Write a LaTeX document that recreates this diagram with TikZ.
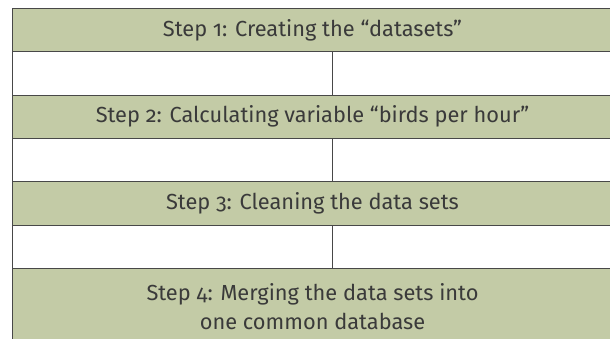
\documentclass[tikz,border=0pt]{standalone}
\usepackage{fontspec}
\setmainfont{Fira Sans}[Numbers=OldStyle]
\definecolor{stepgreen}{RGB}{195,203,166}
\definecolor{rulegray}{RGB}{72,72,72}
\definecolor{textgray}{RGB}{58,58,58}
\tikzset{
    cell/.style={draw=rulegray, line width=0.9pt, inner sep=0pt, outer sep=0pt,
        minimum height=43.3pt, anchor=north west},
    stepcell/.style={cell, fill=stepgreen, minimum width=600pt, text=textgray,
        font=\fontsize{21.8}{29}\selectfont, align=center},
    leftcell/.style={cell, fill=white, minimum width=320.2pt},
    rightcell/.style={cell, fill=white, minimum width=279.8pt}
}
\begin{document}
\begin{tikzpicture}[x=1pt, y=-1pt]
    \useasboundingbox (0,0) rectangle (610,339);

    % step 1
    \node [stepcell] (step1) at (12.5,8.5) {Step 1: Creating the “datasets”};
    \node [leftcell] (gap1l) at (12.5,51.8) {};
    \node [rightcell] (gap1r) at (332.7,51.8) {};

    % step 2
    \node [stepcell] (step2) at (12.5,95.1) {Step 2: Calculating variable “birds per hour”};
    \node [leftcell] (gap2l) at (12.5,138.4) {};
    \node [rightcell] (gap2r) at (332.7,138.4) {};

    % step 3
    \node [stepcell] (step3) at (12.5,181.7) {Step 3: Cleaning the data sets};
    \node [leftcell] (gap3l) at (12.5,225) {};
    \node [rightcell] (gap3r) at (332.7,225) {};

    % step 4
    \node [stepcell, minimum height=76pt] (step4) at (12.5,268.3)
        {Step 4: Merging the data sets into\\one common database};

\end{tikzpicture}
\end{document}
